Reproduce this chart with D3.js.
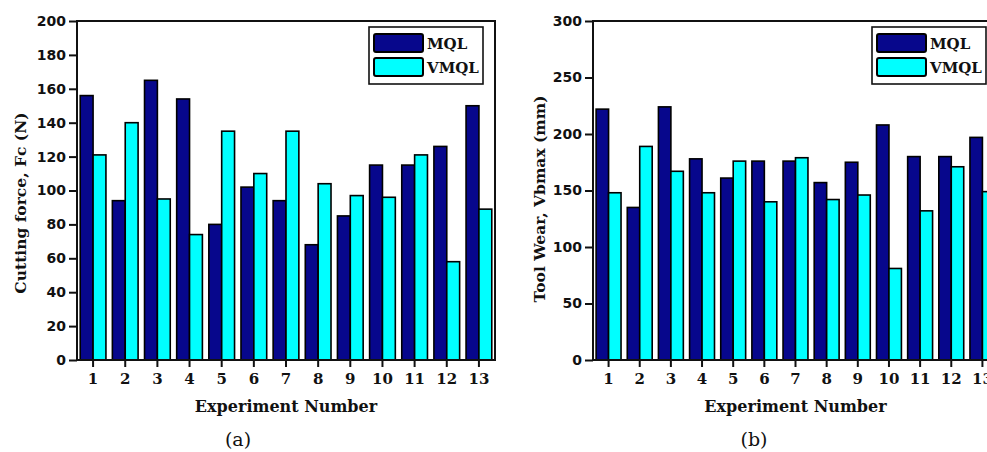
<!DOCTYPE html>
<html>
<head>
<meta charset="utf-8">
<script src="https://cdn.jsdelivr.net/npm/d3@7"></script>
<style>
  body { margin: 0; background: #fff; }
  svg { display: block; }
</style>
</head>
<body>
<div id="chart"></div>
<script>
// data
var experiments=["1","2","3","4","5","6","7","8","9","10","11","12","13"];
var seriesNames=["MQL","VMQL"];
var forceMQL=[156,94,165,154,80,102,94,68,85,115,115,126,150];
var forceVMQL=[121,140,95,74,135,110,135,104,97,96,121,58,89];
var wearMQL=[222,135,224,178,161,176,176,157,175,208,180,180,197];
var wearVMQL=[148,189,167,148,176,140,179,142,146,81,132,171,149];
var forceTicks=[0,20,40,60,80,100,120,140,160,180,200];
var wearTicks=[0,50,100,150,200,250,300];

var colors={MQL:"#07078c",VMQL:"#00ffff"};

var svgWidth=987;
var svgHeight=452;

var svg=d3.select("#chart")
  .append("svg")
  .attr("width",svgWidth)
  .attr("height",svgHeight);

// draw one panel
function drawPanel(opts) {
  var x0=opts.left, x1=opts.right, yTop=21, yBottom=360;

  var xScale=d3.scaleBand()
    .domain(experiments)
    .range([x0,x1])
    .paddingInner(0.2)
    .paddingOuter(0.1);

  var subScale=d3.scaleBand()
    .domain(seriesNames)
    .range([0,xScale.bandwidth()]);

  var yScale=d3.scaleLinear()
    .domain([0,opts.yMax])
    .range([yBottom,yTop]);

  var g=svg.append("g");

  // bars
  var rows=experiments.map(function(e,i) {
    return {exp:e, MQL:opts.mql[i], VMQL:opts.vmql[i]};
  });
  var groups=g.selectAll("g.grp")
    .data(rows)
    .enter()
    .append("g")
    .attr("transform",d=>`translate(${xScale(d.exp)},0)`);
  groups.selectAll("rect")
    .data(d=>seriesNames.map(k=>({key:k,value:d[k]})))
    .enter()
    .append("rect")
    .attr("x",d=>subScale(d.key))
    .attr("width",subScale.bandwidth())
    .attr("y",d=>yScale(d.value))
    .attr("height",d=>yBottom-yScale(d.value))
    .attr("fill",d=>colors[d.key])
    .attr("stroke","#000")
    .attr("stroke-width",1.6);

  // frame
  g.append("rect")
    .attr("x",x0)
    .attr("y",yTop)
    .attr("width",x1-x0)
    .attr("height",yBottom-yTop)
    .attr("fill","none")
    .attr("stroke","#111")
    .attr("stroke-width",2);

  // y axis
  var yAxis=g.append("g")
    .attr("transform",`translate(${x0},0)`)
    .call(d3.axisLeft(yScale).tickValues(opts.ticks).tickSize(8).tickPadding(3));
  yAxis.select(".domain").remove();
  yAxis.selectAll("line").attr("stroke","#111").attr("stroke-width",2);
  yAxis.selectAll("text")
    .attr("fill","#111")
    .style("font-family","'DejaVu Sans', Verdana, sans-serif")
    .style("font-weight","bold")
    .style("font-size","14px");

  // x axis
  var xAxis=g.append("g")
    .attr("transform",`translate(0,${yBottom})`)
    .call(d3.axisBottom(xScale).tickSize(7).tickPadding(6));
  xAxis.select(".domain").remove();
  xAxis.selectAll("line").attr("stroke","#111").attr("stroke-width",2);
  xAxis.selectAll("text")
    .attr("fill","#111")
    .style("font-family","'DejaVu Serif', serif")
    .style("font-weight","bold")
    .style("font-size","15px");

  // axis titles
  g.append("text")
    .attr("x",(x0+x1)/2)
    .attr("y",412)
    .attr("text-anchor","middle")
    .style("font-family","'DejaVu Serif', serif")
    .style("font-weight","bold")
    .style("font-size","16px")
    .attr("fill","#111")
    .text("Experiment Number");

  g.append("text")
    .attr("transform",`translate(${opts.titleX},${opts.titleY}) rotate(-90)`)
    .attr("text-anchor","middle")
    .style("font-family","'DejaVu Serif', serif")
    .style("font-weight","bold")
    .style("font-size","15.5px")
    .attr("fill","#111")
    .text(opts.yTitle);

  // panel label
  g.append("text")
    .attr("x",opts.labelX)
    .attr("y",446)
    .attr("text-anchor","middle")
    .style("font-family","'DejaVu Serif', serif")
    .style("font-size","19px")
    .attr("fill","#111")
    .text(opts.label);

  // legend
  var lx=x1-126, ly=27;
  var legend=g.append("g").attr("transform",`translate(${lx},${ly})`);
  legend.append("rect")
    .attr("x",0).attr("y",0)
    .attr("width",114).attr("height",57)
    .attr("fill","#fff")
    .attr("stroke","#111")
    .attr("stroke-width",1.6);
  seriesNames.forEach(function(name,i) {
    legend.append("rect")
      .attr("x",5)
      .attr("y",7+i*24)
      .attr("width",49)
      .attr("height",18)
      .attr("rx",2)
      .attr("fill",colors[name])
      .attr("stroke","#000")
      .attr("stroke-width",2);
    legend.append("text")
      .attr("x",58)
      .attr("y",22+i*24)
      .style("font-family","'DejaVu Serif', serif")
      .style("font-weight","bold")
      .style("font-size","15px")
      .attr("fill","#111")
      .text(name);
  });
}

// (a) cutting force
drawPanel({
  left:77, right:495, yMax:200, ticks:forceTicks,
  mql:forceMQL, vmql:forceVMQL,
  yTitle:"Cutting force, Fc (N)", titleX:26, titleY:203,
  label:"(a)", labelX:238
});

// (b) tool wear
drawPanel({
  left:593, right:998, yMax:300, ticks:wearTicks,
  mql:wearMQL, vmql:wearVMQL,
  yTitle:"Tool Wear, Vbmax (mm)", titleX:545, titleY:199,
  label:"(b)", labelX:754
});
</script>
</body>
</html>
